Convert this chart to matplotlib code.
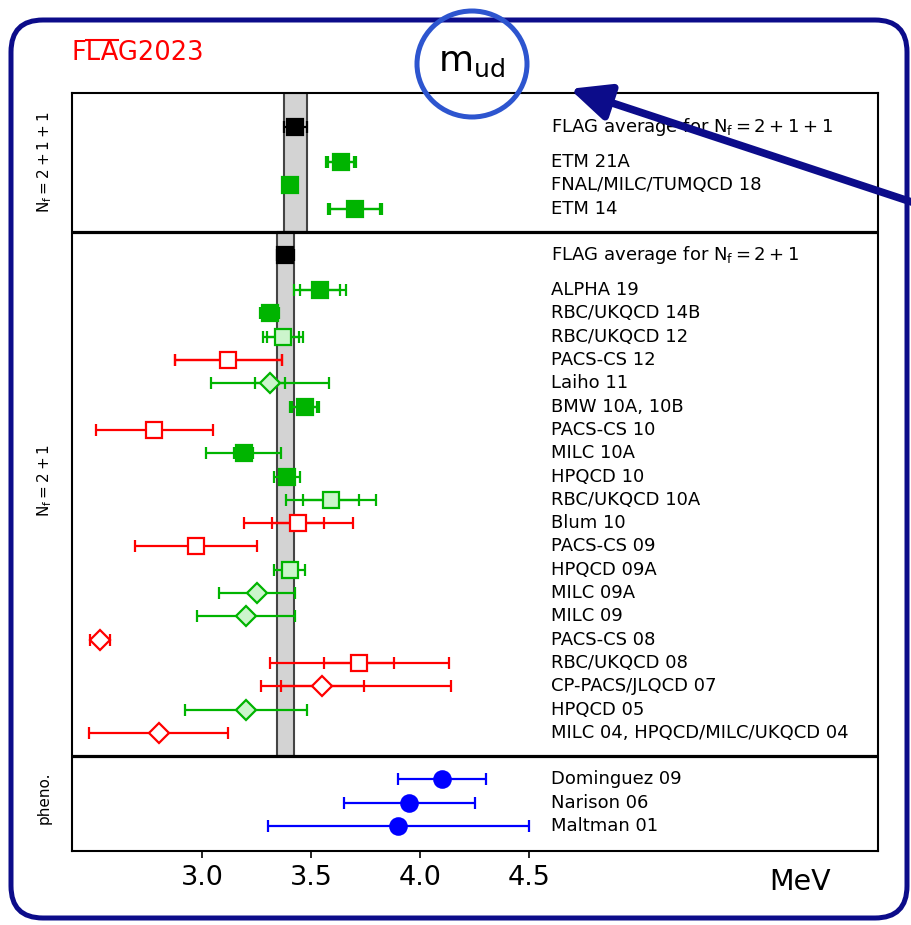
import matplotlib
matplotlib.use("Agg")
import matplotlib.pyplot as plt
import matplotlib.transforms as mtransforms
from matplotlib.patches import FancyBboxPatch, Ellipse, FancyArrowPatch
from matplotlib.lines import Line2D

plt.rcParams['mathtext.fontset'] = 'dejavusans'

# Nf = 2+1+1
names_4 = ["ETM 21A", "FNAL/MILC/TUMQCD 18", "ETM 14"]
vals_4 = [3.636, 3.404, 3.70]
err_4 = [0.068, 0.014, 0.125]
inner_4 = [0.058, 0.0, 0.115]
avg_4, avg_4_err = 3.427, 0.051

# Nf = 2+1 (top to bottom)
names_3 = ["ALPHA 19", "RBC/UKQCD 14B", "RBC/UKQCD 12", "PACS-CS 12", "Laiho 11",
           "BMW 10A, 10B", "PACS-CS 10", "MILC 10A", "HPQCD 10", "RBC/UKQCD 10A",
           "Blum 10", "PACS-CS 09", "HPQCD 09A", "MILC 09A", "MILC 09", "PACS-CS 08",
           "RBC/UKQCD 08", "CP-PACS/JLQCD 07", "HPQCD 05", "MILC 04, HPQCD/MILC/UKQCD 04"]
vals_3 = [3.54, 3.31, 3.37, 3.12, 3.31, 3.469, 2.78, 3.19, 3.39, 3.59,
          3.44, 2.97, 3.40, 3.25, 3.20, 2.529, 3.72, 3.55, 3.20, 2.80]
err_lo_3 = [0.12, 0.044, 0.09, 0.245, 0.27, 0.067, 0.27, 0.172, 0.06, 0.207,
            0.25, 0.28, 0.07, 0.175, 0.224, 0.046, 0.41, 0.28, 0.28, 0.32]
err_hi_3 = [0.12, 0.044, 0.09, 0.245, 0.27, 0.067, 0.27, 0.172, 0.06, 0.207,
            0.25, 0.28, 0.07, 0.175, 0.224, 0.046, 0.41, 0.59, 0.28, 0.32]
inner_3 = [0.09, 0.0, 0.074, 0.245, 0.07, 0.056, 0.0, 0.044, 0.0, 0.13,
           0.12, 0.0, 0.0, 0.0, 0.0, 0.0, 0.16, 0.19, 0.0, 0.0]
kind_3 = ["g", "g", "gl", "r", "gl", "g", "r", "g", "g", "gl",
          "r", "r", "gl", "gl", "gl", "r", "r", "r", "gl", "r"]
marker_3 = ["s", "s", "s", "s", "D", "s", "s", "s", "s", "s",
            "s", "s", "s", "D", "D", "D", "s", "D", "D", "D"]
avg_3, avg_3_err = 3.381, 0.040

# phenomenology
names_ph = ["Dominguez 09", "Narison 06", "Maltman 01"]
vals_ph = [4.10, 3.95, 3.90]
err_ph = [0.20, 0.30, 0.60]

green = "#00b400"
lightgreen = "#ccf5cc"
colors = {"g": (green, green), "gl": (green, lightgreen), "r": ("red", "white")}

fig = plt.figure(figsize=(9.12, 9.25), dpi=100)
ax = fig.add_axes([72 / 912, 1 - 851 / 925, 806 / 912, 758 / 925])
ax.set_xlim(2.402, 6.1)
ax.set_ylim(-1.07, 31.46)

lw = 1.6
cs = 4.3


def point(y, x, lo, hi, ilo, ihi, color, face, marker, ms):
    if ilo > 0:
        ax.errorbar(x, y, xerr=[[ilo], [ihi]], fmt="none", ecolor=color,
                    elinewidth=lw, capsize=cs, capthick=lw, zorder=3)
    ax.errorbar(x, y, xerr=[[lo], [hi]], fmt=marker, color=color, mfc=face,
                mec=color, mew=lw, ms=ms, elinewidth=lw, capsize=cs,
                capthick=lw, zorder=4)


def size(m):
    return 10.2 if m == "D" else 11.5


xl = 4.6
fs = 13

# top panel
y_avg4 = 30.0
ax.fill_betweenx([25.5, 31.46], avg_4 - avg_4_err, avg_4 + avg_4_err,
                 facecolor="#d3d3d3", edgecolor="#444444", lw=1.5, zorder=1)
point(y_avg4, avg_4, avg_4_err, avg_4_err, 0, 0, "black", "black", "s", 11.5)
ax.text(xl, y_avg4, r"FLAG average for $\mathrm{N_f=2+1+1}$", fontsize=fs, va="center")
for i, n in enumerate(names_4):
    y = 28.5 - i
    point(y, vals_4[i], err_4[i], err_4[i], inner_4[i], inner_4[i], green, green, "s", 11.5)
    ax.text(xl, y, n, fontsize=fs, va="center")

# middle panel
y_avg3 = 24.5
ax.fill_betweenx([3.0, 25.5], avg_3 - avg_3_err, avg_3 + avg_3_err,
                 facecolor="#d3d3d3", edgecolor="#444444", lw=1.5, zorder=1)
point(y_avg3, avg_3, avg_3_err, avg_3_err, 0, 0, "black", "black", "s", 11.5)
ax.text(xl, y_avg3, r"FLAG average for $\mathrm{N_f=2+1}$", fontsize=fs, va="center")
for i, n in enumerate(names_3):
    y = 23 - i
    c, f = colors[kind_3[i]]
    point(y, vals_3[i], err_lo_3[i], err_hi_3[i], inner_3[i], inner_3[i],
          c, f, marker_3[i], size(marker_3[i]))
    ax.text(xl, y, n, fontsize=fs, va="center")

# pheno panel
for i, n in enumerate(names_ph):
    y = 2 - i
    point(y, vals_ph[i], err_ph[i], err_ph[i], 0, 0, "blue", "blue", "o", 11.8)
    ax.text(xl, y, n, fontsize=fs, va="center")

for ysep in (3.0, 25.5):
    ax.axhline(ysep, color="black", lw=2.3, zorder=5)

trans = mtransforms.blended_transform_factory(ax.transAxes, ax.transData)
ax.text(-0.034, 28.48, r"$\mathrm{N_f=2+1+1}$", rotation=90, fontsize=11,
        ha="center", va="center", transform=trans)
ax.text(-0.034, 14.85, r"$\mathrm{N_f=2+1}$", rotation=90, fontsize=11,
        ha="center", va="center", transform=trans)
ax.text(-0.034, 1.2, "pheno.", rotation=90, fontsize=11,
        ha="center", va="center", transform=trans)

ax.set_yticks([])
ax.set_xticks([3.0, 3.5, 4.0, 4.5])
ax.set_xticklabels(["3.0", "3.5", "4.0", "4.5"])
ax.tick_params(axis="x", direction="out", length=5, width=1.2, labelsize=19.5, pad=5)
for s in ax.spines.values():
    s.set_linewidth(1.5)

ident = mtransforms.IdentityTransform()
H = 925
fig.text(800, H - 882, "MeV", fontsize=20.5, ha="center", va="center", transform=ident)

# FLAG logo with bar over "LA"
logo_kw = dict(fontsize=18.5, color="red", ha="left", va="baseline", transform=ident)
x0, ybase = 72, H - 60
fig.text(x0, ybase, "FLAG2023", **logo_kw)
r = fig.canvas.get_renderer()
tmp = fig.text(x0, ybase, "F", **logo_kw)
w1 = tmp.get_window_extent(r).width
tmp.set_text("FLA")
w2 = tmp.get_window_extent(r).width
tmp.remove()
ybar = ybase + 20
fig.add_artist(Line2D([x0 + w1 - 1, x0 + w2 - 1], [ybar, ybar], color="red", lw=1.5,
                      transform=ident))

fig.text(472, H - 62, r"$\mathrm{m_{ud}}$", fontsize=26, ha="center", va="center",
         transform=ident)

# annotation overlays
frame = FancyBboxPatch((11, H - 918), 896, 898, boxstyle="round,pad=0,rounding_size=32",
                       lw=3.6, ec="#0c0c8a", fc="none", transform=ident)
fig.add_artist(frame)
circ = Ellipse((472, H - 64), 110, 106, lw=3.6, ec="#2d55cf", fc="none", transform=ident)
fig.add_artist(circ)
arr = FancyArrowPatch((960, H - 218), (567, H - 88), arrowstyle="-|>,head_length=1.2,head_width=0.55",
                      mutation_scale=20, lw=5.5, color="#0c0c8a", transform=ident)
fig.add_artist(arr)

fig.savefig("out.png", dpi=100)
